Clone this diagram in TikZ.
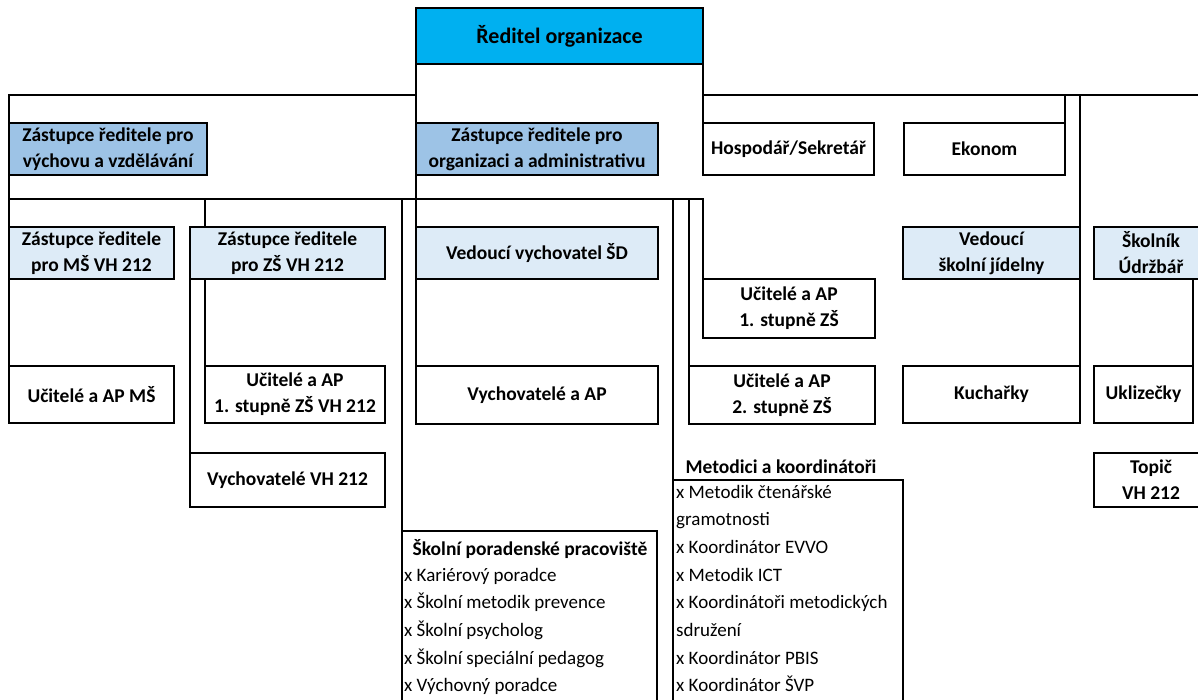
\documentclass[tikz,border=0pt]{standalone}
\usepackage{fontspec}
\setmainfont{Carlito}
\usetikzlibrary{positioning}
\definecolor{dirblue}{HTML}{00B0F0}
\definecolor{depblue}{HTML}{9DC3E6}
\definecolor{lightblue}{HTML}{DDEBF7}

\begin{document}
\begin{tikzpicture}[x=1pt, y=-1pt,
  org/.style={draw, line width=2.8pt, outer sep=0pt, inner sep=1pt, align=center,
    font=\fontsize{19.5}{26}\selectfont\bfseries},
  head/.style={org, fill=depblue},
  sub/.style={org, fill=lightblue},
  plain/.style={org, fill=white},
  title/.style={inner sep=0pt, font=\fontsize{19.5}{26}\selectfont\bfseries},
  listbox/.style={draw, line width=1.7pt, outer sep=0pt},
  item/.style={inner sep=0pt, anchor=base west, font=\fontsize{19}{24}\selectfont},
  conn/.style={line width=2.8pt}]
\useasboundingbox (0,0) rectangle (1198,699);
\clip (0,0) rectangle (1198,699);

% vedeni
\node[org, fill=dirblue, minimum width=287, minimum height=56,
  font=\fontsize{22}{26}\selectfont\bfseries] (dir) at (559.5,36) {Ředitel organizace};
\node[head, minimum width=198, minimum height=52] (zvv) at (108,149) {Zástupce ředitele pro\\výchovu a vzdělávání};
\node[head, minimum width=242, minimum height=52] (zoa) at (537,149) {Zástupce ředitele pro\\organizaci a administrativu};
\node[plain, minimum width=171, minimum height=52] (hosp) at (788.5,149) {Hospodář/Sekretář};
\node[plain, minimum width=161, minimum height=52] (ekon) at (984.5,149) {Ekonom};

% druha uroven
\node[sub, minimum width=165, minimum height=52] (zms) at (91.5,253) {Zástupce ředitele\\pro MŠ VH 212};
\node[sub, minimum width=195, minimum height=52] (zzs) at (287.5,253) {Zástupce ředitele\\pro ZŠ VH 212};
\node[sub, minimum width=242, minimum height=52] (vvsd) at (537,253) {Vedoucí vychovatel ŠD};
\node[sub, minimum width=177, minimum height=52] (vsj) at (991.5,253) {Vedoucí\\školní jídelny};
\node[sub, minimum width=114, minimum height=52] (skol) at (1151,253) {Školník\\Údržbář};
\node[plain, minimum width=172, minimum height=59] (u1) at (789,308.5) {Učitelé a AP\\1. stupně ZŠ};

% treti uroven
\node[plain, minimum width=165, minimum height=57] (ums) at (91.5,394.5) {Učitelé a AP MŠ};
\node[plain, minimum width=180, minimum height=57] (u1vh) at (295,394.5) {Učitelé a AP\\1. stupně ZŠ VH 212};
\node[plain, minimum width=242, minimum height=58] (vyap) at (537,395) {Vychovatelé a AP};
\node[plain, minimum width=186, minimum height=58] (u2) at (782,395) {Učitelé a AP\\2. stupně ZŠ};
\node[plain, minimum width=177, minimum height=57] (kuch) at (991.5,394.5) {Kuchařky};
\node[plain, minimum width=99, minimum height=57] (ukl) at (1143.5,394.5) {Uklizečky};
\node[plain, minimum width=195, minimum height=54] (vvh) at (287.5,480) {Vychovatelé VH 212};
\node[plain, minimum width=114, minimum height=54] (topic) at (1151,480) {Topič\\VH 212};

% skolni poradenske pracoviste
\node[listbox, minimum width=255, minimum height=180] (spp) at (529.5,621) {};
\node[title] (spph) at (530,549) {Školní poradenské pracoviště};
\foreach \t [count=\i from 0] in {x Kariérový poradce, x Školní metodik prevence,
    x Školní psycholog, x Školní speciální pedagog, x Výchovný poradce}
  \node[item] (spp-\i) at (404,581+27.7*\i) {\t};

% metodici
\node[title] (meth) at (781,467) {Metodici a koordinátoři};
\node[listbox, minimum width=230, minimum height=231] (met) at (788,595.5) {};
\foreach \t [count=\i from 0] in {x Metodik čtenářské, gramotnosti, x Koordinátor EVVO,
    x Metodik ICT, x Koordinátoři metodických, sdružení, x Koordinátor PBIS, x Koordinátor ŠVP}
  \node[item] (met-\i) at (676,498+27.7*\i) {\t};

% spojnice
\coordinate (bustop) at (0,95);
\coordinate (busmid) at (0,199);
\coordinate (busend) at (1210,95);
\draw[conn] (zvv.north west) |- (dir.south west |- bustop);
\draw[conn] (dir.south west) -- (zoa.north west);
\draw[conn] (zoa.south west) -- (vvsd.north west);
\draw[conn] (vvsd.south west) -- (vyap.north west);
\draw[conn] (dir.south east) -- (hosp.north west);
\draw[conn] (dir.south east |- bustop) -- (busend);
\draw[conn] (ekon.north east) -- (ekon.north east |- bustop);
\draw[conn] (kuch.north east) -- (vsj.north east |- bustop);
\draw[conn] (zvv.south west) -- (zms.north west);
\draw[conn] (zms.south west) -- (ums.north west);
\draw[conn] (zvv.south west |- busmid) -| (u1.north west);
\draw[conn] (zzs.north -| u1vh.west) -- (u1vh.west |- busmid);
\draw[conn] (u1vh.north west) -- (u1vh.north west |- zzs.south);
\draw[conn] (vvh.north west) -- (zzs.south west);
\draw[conn] (spp.north west) -- (spp.north west |- busmid);
\draw[conn] (met.north west) -- (met.north west |- busmid);
\draw[conn] (u2.north west) -- (u2.north west |- busmid);
\draw[conn] (ukl.north east) -- (ukl.north east |- skol.south);
\end{tikzpicture}
\end{document}
